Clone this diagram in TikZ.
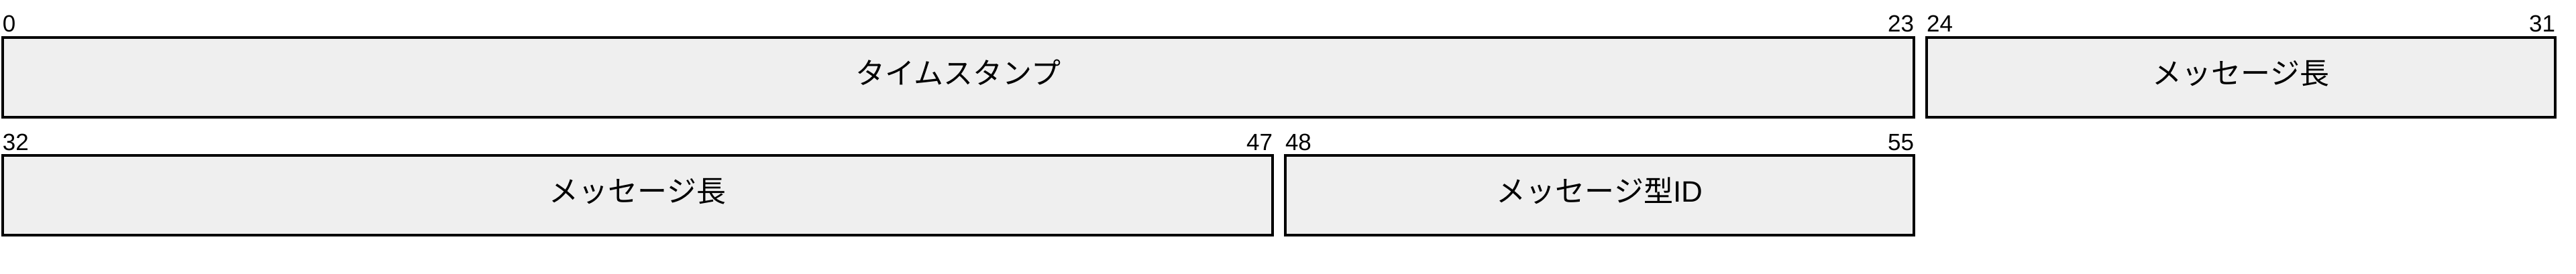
\documentclass[tikz,border=0pt]{standalone}
\usepackage{fontspec}
\setmainfont{Liberation Sans}
\newfontfamily\jpfont{Noto Sans CJK JP}
\usepackage{tikz}
\definecolor{fieldfill}{HTML}{EFEFEF}

\begin{document}
\begin{tikzpicture}[
  field/.style = {draw,fill=fieldfill,line width=0.85pt,rectangle,anchor=north west,
    inner sep=0pt,outer sep=0pt,minimum height=29.75pt,text height=8pt,text depth=3pt,
    font=\fontsize{11pt}{13pt}\selectfont\jpfont},
  bitno/.style = {inner sep=0pt,outer sep=0pt,font=\fontsize{8.75pt}{10pt}\selectfont}
  ]
  \useasboundingbox (0,0) rectangle (960pt,102pt);
  % first row: bits 0 to 31
  \node[field,minimum width=712.25pt] (ts) at (1pt,88pt) {タイムスタンプ};
  \node[field,minimum width=234.25pt] (len1) at (718pt,88pt) {メッセージ長};
  % second row: bits 32 to 55
  \node[field,minimum width=473.25pt] (len2) at (1pt,44pt) {メッセージ長};
  \node[field,minimum width=234.25pt] (id) at (479pt,44pt) {メッセージ型{\rmfamily ID}};

  \node[bitno,anchor=base west] (ts-s) at ([yshift=2pt]ts.north west) {0};
  \node[bitno,anchor=base east] (ts-e) at ([yshift=2pt]ts.north east) {23};
  \node[bitno,anchor=base west] (len1-s) at ([yshift=2pt]len1.north west) {24};
  \node[bitno,anchor=base east] (len1-e) at ([yshift=2pt]len1.north east) {31};
  \node[bitno,anchor=base west] (len2-s) at ([yshift=2pt]len2.north west) {32};
  \node[bitno,anchor=base east] (len2-e) at ([yshift=2pt]len2.north east) {47};
  \node[bitno,anchor=base west] (id-s) at ([yshift=2pt]id.north west) {48};
  \node[bitno,anchor=base east] (id-e) at ([yshift=2pt]id.north east) {55};
\end{tikzpicture}
\end{document}
